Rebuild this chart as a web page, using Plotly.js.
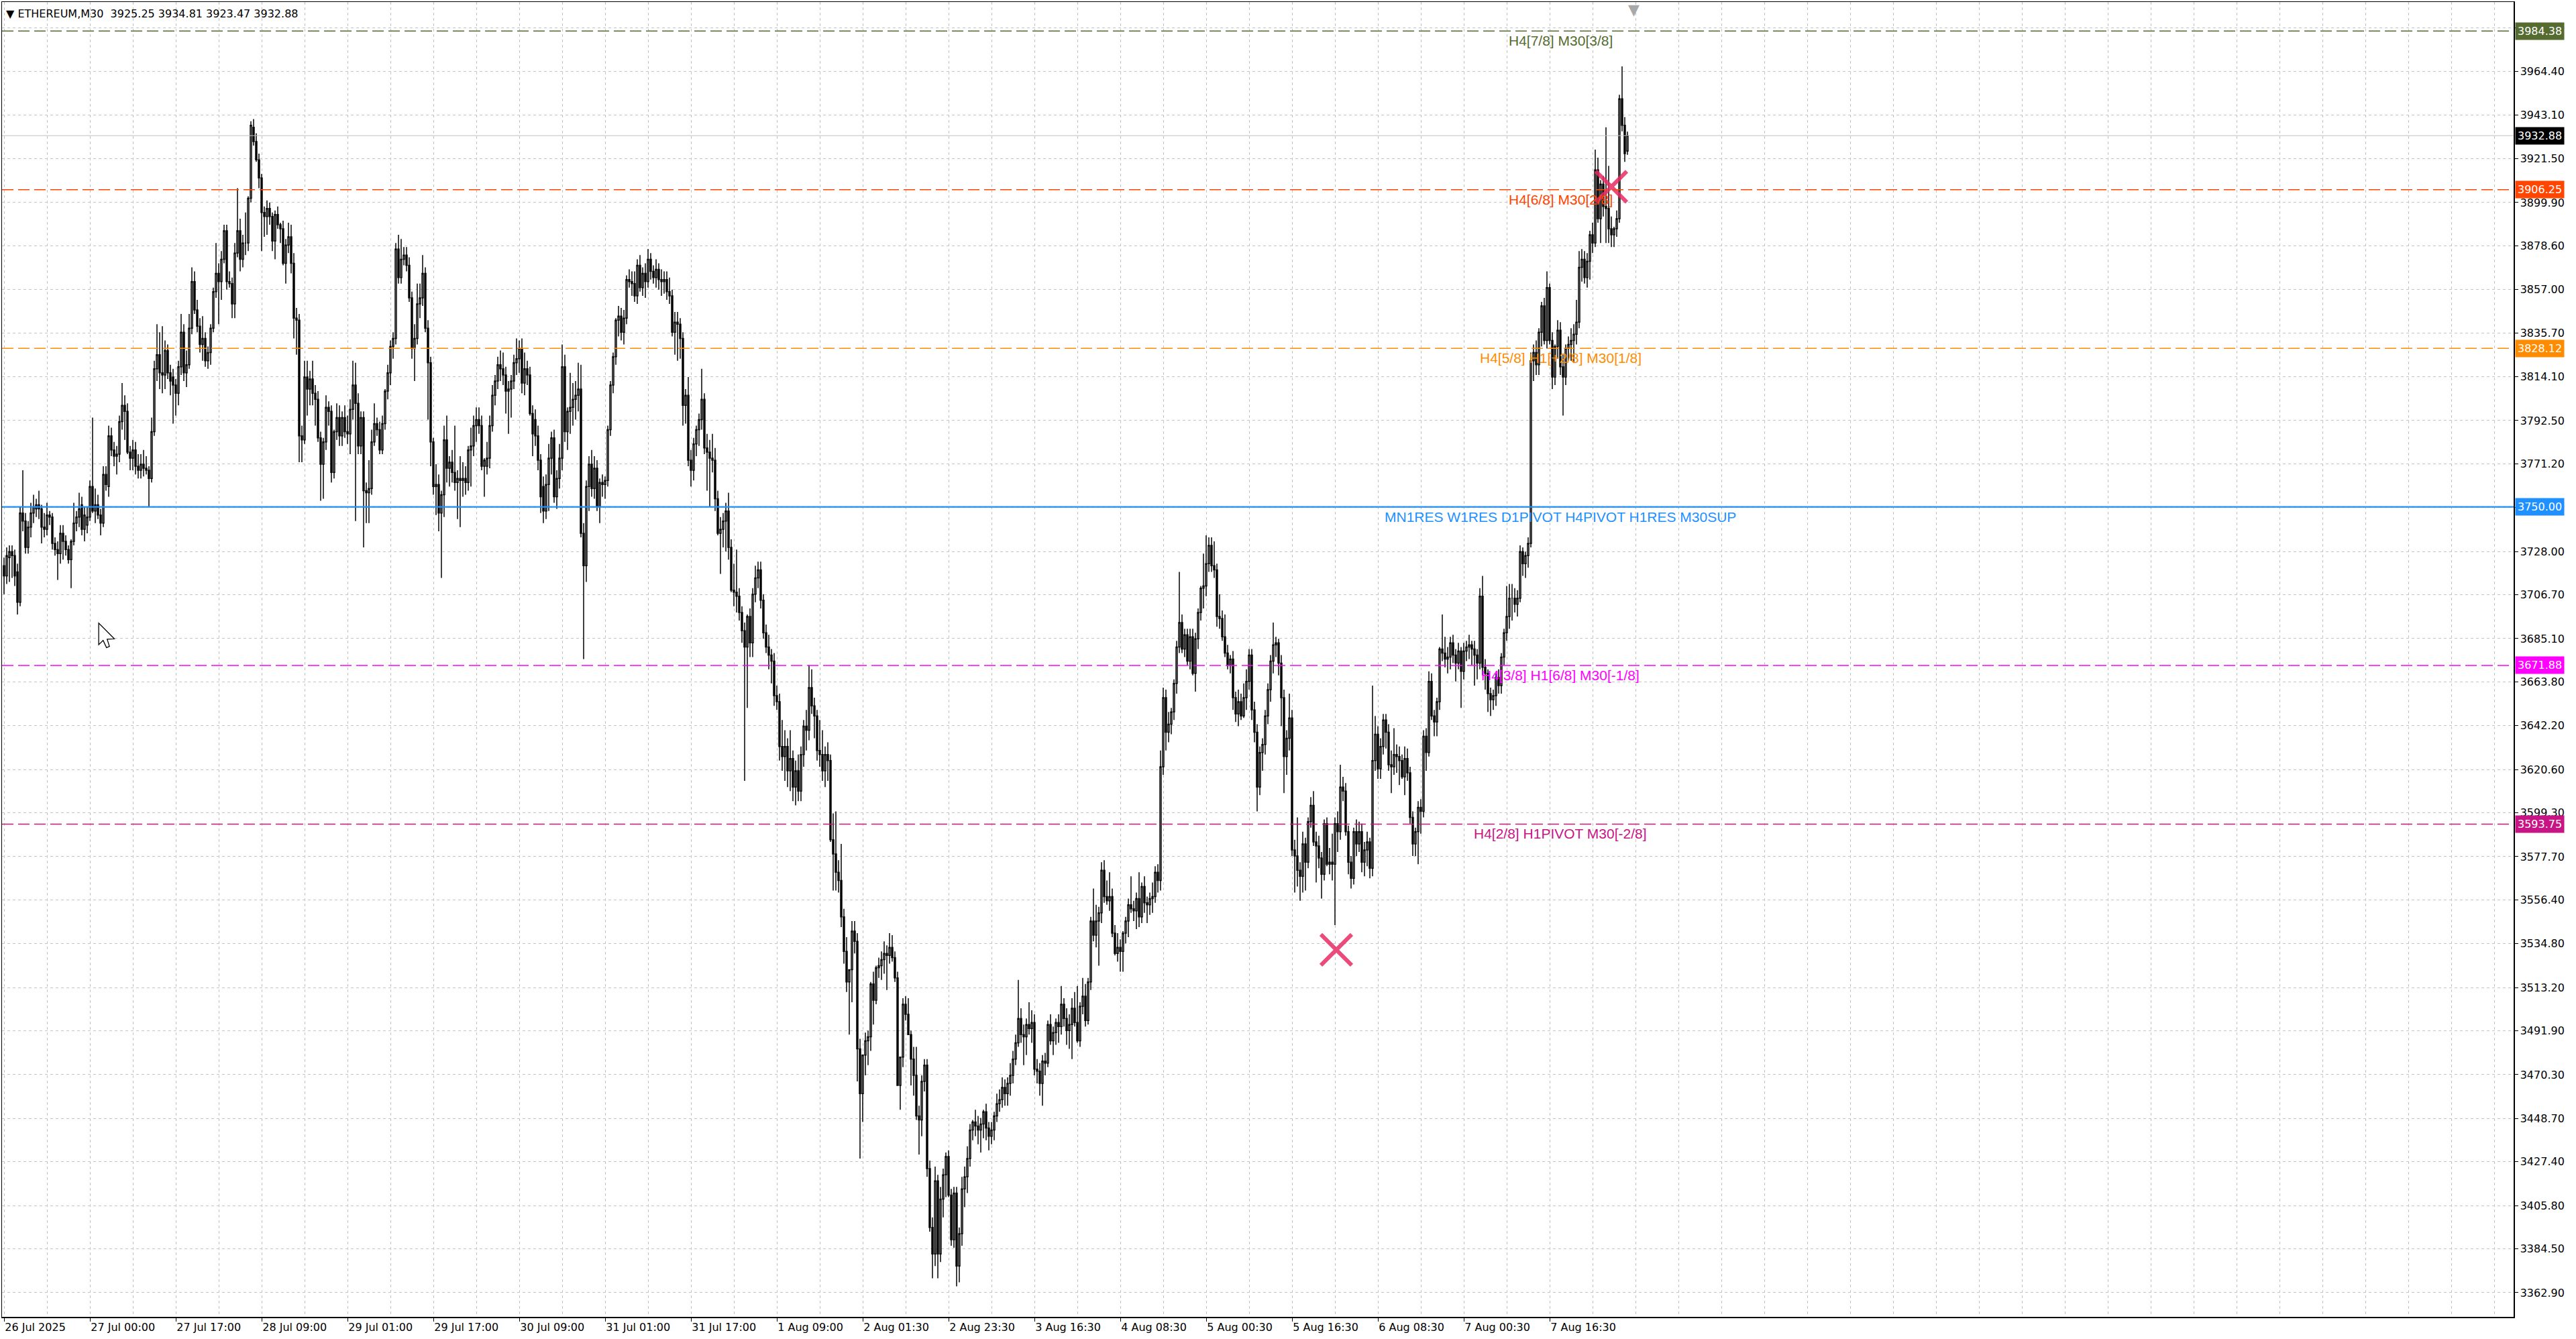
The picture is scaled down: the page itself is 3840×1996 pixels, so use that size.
<!DOCTYPE html>
<html>
<head>
<meta charset="utf-8">
<script src="https://cdn.plot.ly/plotly-3.0.1.min.js"></script>
<style>
html,body{margin:0;padding:0;background:#fff;}
#chart{width:3840px;height:1996px;}
</style>
</head>
<body>
<div id="chart"></div>
<script>
// ETHEREUM M30 candles, rows are [open, high, low, close]
let ohlcPart1 = [
[3721,3725,3707,3716],[3716,3730,3712,3726],[3725,3731,3713,3728],[3728,3731,3715,3726],[3726,3729,3711,3716],
[3718,3722,3697,3703],[3703,3750,3701,3747],[3747,3768,3738,3743],[3743,3747,3727,3730],[3730,3743,3727,3740],
[3740,3752,3735,3747],[3747,3756,3742,3750],[3749,3754,3745,3751],[3751,3758,3744,3749],[3749,3751,3732,3740],
[3740,3747,3735,3739],[3739,3752,3736,3746],[3746,3748,3741,3745],[3745,3747,3729,3732],[3732,3735,3726,3729],
[3729,3733,3714,3727],[3727,3741,3722,3737],[3737,3741,3724,3733],[3733,3736,3726,3729],[3729,3731,3722,3724],
[3724,3734,3710,3733],[3733,3752,3731,3742],[3742,3748,3738,3745],[3745,3757,3740,3749],[3751,3755,3736,3739],
[3739,3750,3733,3746],[3741,3750,3737,3745],[3745,3763,3743,3760],[3760,3794,3747,3748],[3748,3759,3742,3751],
[3751,3756,3744,3746],[3746,3749,3736,3742],[3742,3770,3740,3766],[3766,3770,3758,3761],[3760,3790,3755,3785],
[3785,3789,3775,3778],[3778,3782,3770,3775],[3775,3780,3766,3776],[3776,3795,3772,3792],[3792,3811,3788,3800],
[3800,3805,3783,3797],[3797,3801,3776,3777],[3777,3780,3768,3774],[3774,3783,3768,3778],[3778,3782,3766,3770],
[3770,3776,3764,3768],[3768,3776,3764,3771],[3771,3778,3765,3769],[3769,3775,3766,3768],[3768,3770,3750,3764],
[3764,3794,3762,3787],[3787,3822,3785,3818],[3818,3840,3812,3825],[3825,3836,3808,3816],[3816,3839,3806,3815],
[3815,3832,3808,3827],[3827,3830,3813,3816],[3816,3820,3805,3812],[3814,3818,3791,3810],[3810,3813,3795,3806],
[3806,3822,3800,3819],[3819,3845,3815,3836],[3836,3840,3812,3816],[3816,3827,3809,3820],[3820,3845,3818,3838],
[3838,3868,3835,3861],[3861,3866,3845,3847],[3847,3852,3836,3839],[3839,3843,3826,3830],[3830,3844,3822,3833],
[3833,3836,3819,3822],[3822,3829,3818,3826],[3826,3840,3820,3838],[3838,3858,3836,3856],[3856,3880,3853,3865],
[3865,3870,3840,3861],[3861,3876,3852,3872],[3872,3889,3870,3886],[3886,3889,3857,3861],[3861,3866,3858,3860],
[3860,3863,3843,3850],[3850,3880,3843,3875],[3875,3907,3873,3886],[3886,3892,3866,3872],[3872,3884,3868,3880],
[3880,3895,3874,3880],[3880,3903,3876,3902],[3902,3940,3900,3938],[3937,3941,3928,3930],[3930,3934,3920,3921],
[3921,3924,3907,3912],[3912,3914,3876,3895],[3895,3898,3883,3893],[3893,3901,3884,3897],[3897,3900,3889,3893],
[3893,3895,3876,3881],[3881,3896,3872,3894],[3894,3898,3887,3889],[3889,3890,3880,3887],[3887,3891,3869,3870],
[3870,3882,3860,3879],[3879,3890,3875,3883],[3883,3889,3865,3870],[3870,3875,3833,3843],[3843,3848,3825,3842],
[3842,3845,3772,3785],[3785,3790,3772,3783],[3783,3822,3781,3814],[3814,3822,3795,3808],[3808,3817,3800,3813],
[3813,3822,3800,3806],[3806,3810,3790,3803],[3803,3807,3782,3784],[3784,3787,3753,3771],[3771,3784,3754,3782],
[3782,3805,3778,3799],[3799,3802,3790,3797],[3797,3800,3762,3767],[3767,3788,3764,3787],[3787,3801,3783,3794],
[3794,3800,3780,3785],[3785,3797,3780,3794],[3794,3800,3784,3787],[3787,3795,3781,3786],[3786,3803,3776,3798],
[3798,3822,3793,3810],[3810,3821,3743,3801],[3801,3806,3776,3780],[3780,3797,3776,3794],[3794,3797,3730,3758],
[3758,3762,3742,3757],[3757,3773,3742,3759],[3759,3788,3756,3782],[3782,3801,3780,3791],[3791,3794,3785,3788],
[3788,3792,3776,3778],[3778,3795,3776,3791],[3791,3808,3788,3807],[3807,3820,3803,3816],[3816,3832,3810,3829],
[3829,3836,3823,3833],[3833,3880,3830,3877],[3877,3884,3860,3863],[3863,3882,3860,3872],[3872,3878,3869,3874],
[3874,3878,3866,3869],[3869,3873,3851,3853],[3853,3856,3823,3828]
];
let ohlcPart2 = [
[3828,3840,3812,3833],[3833,3860,3830,3850],[3850,3860,3843,3853],[3853,3874,3849,3865],[3865,3868,3836,3838],
[3838,3842,3793,3821],[3821,3824,3770,3782],[3782,3784,3756,3760],[3760,3771,3746,3761],[3761,3766,3738,3747],
[3747,3758,3715,3756],[3756,3790,3745,3783],[3783,3795,3762,3769],[3769,3775,3760,3772],[3772,3778,3762,3767],
[3767,3790,3758,3762],[3762,3768,3744,3764],[3764,3775,3740,3763],[3763,3772,3755,3764],[3764,3770,3756,3762],
[3762,3780,3758,3778],[3778,3789,3760,3780],[3780,3795,3775,3790],[3790,3799,3782,3793],[3793,3799,3786,3790],
[3790,3795,3768,3770],[3770,3774,3755,3773],[3770,3782,3766,3774],[3774,3795,3769,3790],[3790,3810,3787,3805],
[3805,3815,3800,3812],[3812,3824,3808,3820],[3820,3827,3812,3818],[3818,3826,3810,3815],[3815,3819,3796,3807],
[3807,3812,3786,3808],[3808,3815,3794,3812],[3812,3825,3808,3821],[3821,3833,3815,3823],[3823,3832,3816,3828],
[3828,3833,3806,3811],[3811,3826,3805,3818],[3818,3822,3810,3815],[3815,3819,3795,3796],[3796,3800,3775,3786],
[3793,3798,3780,3785],[3785,3790,3768,3773],[3773,3776,3747,3755],[3760,3765,3742,3748],[3748,3766,3744,3761],
[3761,3781,3748,3774],[3774,3787,3766,3784],[3784,3788,3752,3755],[3755,3768,3749,3764],[3764,3781,3759,3774],
[3774,3830,3768,3819],[3819,3825,3782,3787],[3787,3799,3778,3797],[3797,3816,3786,3799],[3799,3811,3790,3803],
[3803,3812,3793,3805],[3805,3821,3797,3808],[3808,3820,3735,3737],[3737,3742,3675,3721],[3721,3763,3713,3760],
[3760,3775,3748,3771],[3771,3778,3755,3759],[3759,3775,3754,3769],[3769,3773,3748,3750],[3750,3764,3742,3762],
[3762,3766,3755,3761],[3761,3765,3754,3763],[3763,3790,3760,3788],[3788,3812,3785,3810],[3810,3826,3806,3824],
[3824,3843,3820,3842],[3842,3849,3834,3844],[3844,3848,3832,3836],[3836,3847,3830,3843],[3843,3864,3840,3862],
[3862,3867,3858,3861],[3861,3866,3854,3860],[3860,3866,3851,3854],[3854,3872,3850,3869],[3869,3874,3856,3858],
[3858,3868,3854,3865],[3865,3870,3853,3861],[3861,3877,3858,3872],[3872,3875,3862,3866],[3866,3869,3860,3863],
[3863,3872,3858,3867],[3867,3870,3857,3862],[3862,3867,3854,3861],[3861,3866,3855,3862],[3862,3866,3852,3856],
[3856,3863,3850,3854],[3854,3857,3834,3836],[3836,3846,3825,3841],[3841,3846,3822,3840],[3840,3843,3823,3833],
[3833,3836,3790,3800],[3800,3808,3791,3805],[3805,3814,3770,3773],[3773,3778,3760,3768],[3768,3784,3763,3781],
[3781,3790,3775,3788],[3788,3796,3780,3793],[3793,3818,3788,3803],[3803,3806,3776,3779],[3779,3786,3758,3777],
[3777,3783,3750,3774],[3774,3786,3767,3773],[3773,3779,3748,3754],[3754,3758,3736,3737],[3737,3745,3717,3739],
[3739,3747,3730,3743],[3743,3752,3728,3748],[3748,3757,3724,3730],[3730,3734,3708,3709],[3709,3722,3701,3708],
[3708,3729,3698,3706],[3706,3710,3694,3698],[3698,3701,3683,3689],[3689,3693,3615,3681],[3681,3697,3651,3696],
[3696,3700,3676,3683],[3683,3710,3676,3707],[3707,3721,3703,3715],[3715,3723,3710,3719],[3719,3723,3700,3704],
[3704,3707,3685,3688],[3688,3692,3678,3681],[3681,3687,3670,3677],[3677,3680,3663,3674],[3674,3678,3652,3657],
[3657,3662,3650,3654],[3654,3658,3625,3632],[3632,3645,3620,3627],[3627,3640,3615,3632],[3632,3636,3612,3620],
[3620,3640,3610,3626],[3626,3630,3605,3612],[3612,3625,3603,3620],[3620,3628,3605,3610],[3610,3632,3605,3628],
[3628,3645,3622,3642],[3642,3650,3630,3640],[3640,3672,3635,3661],[3661,3670,3648,3652],[3652,3656,3636,3647],
[3647,3650,3625,3630],[3630,3645,3622,3628],[3628,3640,3615,3620],[3620,3632,3612,3628],[3628,3634,3615,3625]
];
let ohlcPart3 = [
[3625,3628,3585,3586],[3586,3599,3561,3579],[3579,3600,3561,3570],[3570,3576,3560,3566],[3566,3584,3543,3548],
[3548,3552,3525,3531],[3531,3538,3511,3516],[3516,3522,3490,3522],[3522,3546,3506,3541],[3541,3546,3530,3536],
[3536,3540,3467,3483],[3483,3488,3429,3461],[3461,3480,3447,3480],[3480,3491,3470,3487],[3487,3492,3475,3489],
[3489,3516,3482,3515],[3515,3521,3495,3507],[3507,3524,3505,3523],[3523,3528,3518,3524],[3524,3531,3517,3527],
[3527,3536,3520,3530],[3530,3534,3512,3529],[3529,3540,3525,3533],[3533,3539,3526,3528],[3528,3531,3516,3518],
[3518,3521,3465,3465],[3465,3479,3453,3479],[3479,3508,3474,3505],[3505,3509,3497,3500],[3500,3508,3490,3490],
[3490,3492,3465,3478],[3478,3484,3460,3470],[3470,3484,3448,3450],[3450,3455,3431,3448],[3448,3470,3440,3467],
[3467,3478,3462,3475],[3475,3478,3420,3424],[3424,3428,3393,3395],[3395,3400,3370,3382],[3382,3425,3376,3418],
[3418,3421,3370,3382],[3382,3415,3378,3409],[3409,3424,3400,3421],[3421,3432,3410,3430],[3430,3433,3410,3411],
[3411,3414,3386,3389],[3389,3415,3385,3412],[3412,3415,3366,3376],[3376,3395,3368,3392],[3392,3420,3386,3414],
[3414,3425,3405,3420],[3420,3435,3412,3429],[3429,3446,3425,3443],[3443,3448,3438,3447],[3447,3453,3440,3445],
[3445,3450,3436,3443],[3443,3449,3432,3446],[3446,3453,3439,3452],[3452,3456,3438,3444],[3444,3447,3433,3440],
[3440,3447,3436,3443],[3443,3452,3438,3450],[3450,3461,3447,3456],[3456,3463,3452,3458],[3458,3469,3454,3464],
[3464,3468,3455,3461],[3461,3469,3455,3466],[3466,3476,3460,3470],[3470,3482,3466,3478],[3478,3490,3475,3486],
[3486,3517,3484,3498],[3498,3503,3486,3490],[3490,3495,3475,3489],[3489,3498,3480,3495],[3495,3506,3490,3493],
[3493,3502,3486,3496],[3496,3500,3470,3473],[3473,3478,3466,3472],[3472,3476,3460,3466],[3466,3480,3455,3477],
[3477,3481,3470,3476],[3476,3497,3474,3495],[3495,3500,3485,3487],[3487,3494,3480,3491],[3491,3498,3485,3496],
[3496,3500,3486,3494],[3494,3514,3490,3505],[3505,3508,3494,3498],[3498,3503,3485,3492],[3492,3500,3483,3495],
[3495,3508,3478,3503],[3503,3511,3494,3496],[3496,3514,3486,3487],[3487,3506,3484,3504],[3504,3518,3500,3509],
[3509,3515,3494,3497],[3497,3518,3495,3516],[3516,3548,3512,3546],[3546,3562,3536,3539],[3539,3554,3533,3546],
[3546,3553,3524,3550],[3550,3575,3545,3571],[3571,3576,3555,3558],[3558,3566,3554,3556],[3556,3570,3551,3558],
[3558,3562,3538,3540],[3540,3544,3529,3530],[3530,3540,3526,3533],[3533,3537,3521,3531],[3531,3541,3521,3540],
[3540,3548,3535,3546],[3546,3557,3538,3554],[3554,3568,3550,3552],[3552,3556,3546,3551],[3551,3560,3542,3557],
[3557,3570,3543,3548],[3548,3565,3545,3563],[3563,3568,3550,3555],[3555,3558,3545,3554],[3554,3560,3549,3557],
[3557,3565,3550,3558],[3558,3573,3555,3570],[3570,3574,3560,3566],[3566,3630,3561,3622],[3622,3661,3618,3656],
[3656,3660,3630,3639],[3639,3649,3634,3643],[3643,3651,3638,3649],[3649,3665,3645,3663],[3663,3684,3658,3681],
[3681,3718,3678,3693],[3693,3697,3678,3680],[3680,3690,3676,3687],[3687,3690,3672,3674],[3674,3690,3670,3686],
[3686,3690,3667,3668],[3668,3688,3659,3685],[3685,3700,3680,3698],[3698,3711,3694,3710],[3710,3727,3700,3711],
[3711,3736,3706,3722],[3722,3735,3718,3731],[3731,3735,3718,3721],[3721,3733,3715,3719],[3719,3722,3691,3696],
[3696,3707,3690,3695],[3695,3699,3684,3686],[3686,3697,3676,3678],[3678,3682,3670,3672],[3672,3677,3668,3675],
[3675,3679,3650,3656],[3656,3659,3644,3648],[3648,3660,3642,3654],[3654,3658,3645,3647],[3647,3663,3646,3656]
];
let ohlcPart4 = [
[3656,3670,3650,3664],[3664,3680,3660,3677],[3677,3680,3645,3650],[3650,3654,3634,3639],[3639,3643,3600,3612],
[3612,3632,3608,3629],[3629,3636,3620,3633],[3633,3650,3628,3647],[3647,3663,3643,3660],[3660,3677,3654,3674],
[3674,3693,3668,3682],[3682,3686,3676,3683],[3683,3685,3667,3673],[3673,3677,3642,3656],[3656,3660,3609,3627],
[3627,3640,3618,3636],[3636,3658,3630,3646],[3646,3650,3578,3581],[3581,3586,3560,3578],[3578,3597,3563,3571],
[3571,3575,3556,3568],[3568,3590,3560,3584],[3584,3587,3561,3575],[3575,3597,3572,3595],[3595,3607,3592,3603],
[3603,3610,3583,3585],[3585,3590,3565,3583],[3583,3588,3572,3577],[3577,3580,3557,3569],[3569,3596,3566,3594],
[3594,3597,3573,3574],[3574,3582,3569,3575],[3575,3589,3566,3574],[3574,3597,3544,3594],[3594,3600,3580,3590],
[3590,3623,3586,3612],[3612,3617,3605,3610],[3610,3614,3588,3590],[3590,3593,3569,3575],[3575,3578,3562,3567],
[3567,3592,3564,3590],[3590,3596,3578,3584],[3584,3595,3580,3590],[3590,3594,3570,3575],[3575,3585,3568,3581],
[3581,3590,3573,3585],[3585,3587,3567,3572],[3572,3662,3568,3625],[3625,3647,3620,3638],[3638,3642,3616,3621],
[3621,3636,3616,3632],[3632,3648,3628,3645],[3645,3648,3631,3639],[3639,3643,3620,3623],[3623,3630,3609,3622],
[3622,3641,3618,3628],[3628,3633,3619,3627],[3627,3632,3613,3625],[3625,3628,3616,3617],[3617,3632,3608,3626],
[3626,3631,3615,3619],[3619,3622,3594,3597],[3597,3600,3578,3584],[3584,3592,3578,3590],[3590,3605,3574,3602],
[3602,3606,3589,3600],[3600,3640,3597,3637],[3637,3641,3620,3629],[3629,3669,3627,3664],[3664,3668,3645,3647],
[3647,3650,3637,3644],[3644,3656,3637,3654],[3654,3681,3650,3680],[3680,3697,3674,3678],[3678,3686,3671,3675],
[3675,3681,3668,3676],[3676,3686,3670,3683],[3683,3687,3673,3677],[3677,3680,3664,3673],[3673,3683,3670,3679],
[3679,3681,3651,3669],[3669,3683,3665,3679],[3679,3684,3674,3681],[3681,3687,3675,3682],[3682,3684,3672,3680],
[3680,3684,3662,3677],[3677,3680,3665,3673],[3673,3710,3670,3706],[3706,3716,3667,3671],[3671,3675,3660,3668],
[3668,3670,3649,3658],[3658,3661,3647,3655],[3655,3660,3650,3657],[3657,3668,3652,3666],[3666,3670,3658,3662],
[3662,3678,3658,3676],[3676,3690,3672,3688],[3688,3711,3684,3696],[3696,3712,3690,3705],[3705,3712,3694,3705],
[3705,3710,3698,3702],[3702,3709,3696,3705]
];
let ohlcPart5 = [
[3705,3731,3703,3728],[3728,3730,3716,3722],[3722,3728,3715,3726],[3726,3735,3720,3732],[3732,3826,3730,3822],
[3822,3830,3812,3826],[3826,3832,3815,3820],[3820,3838,3815,3836],[3836,3851,3829,3849],[3849,3853,3830,3832],
[3832,3866,3828,3858],[3858,3860,3830,3832],[3832,3836,3808,3814],[3814,3830,3810,3829],[3829,3842,3823,3837],
[3837,3841,3815,3819],[3819,3825,3795,3814],[3814,3830,3810,3828],[3828,3834,3822,3830],[3830,3838,3822,3832],
[3832,3840,3821,3835],[3835,3852,3830,3841],[3841,3876,3838,3868],[3868,3877,3861,3872],[3872,3876,3860,3863],
[3863,3875,3858,3871],[3871,3886,3862,3884],[3884,3890,3875,3880],[3880,3926,3878,3916],[3916,3922,3890,3892],
[3892,3911,3880,3909],[3909,3913,3893,3898],[3898,3937,3880,3897],[3897,3918,3880,3887],[3887,3893,3878,3884],
[3884,3888,3878,3887],[3887,3896,3883,3892],[3892,3953,3890,3951],[3951,3967,3935,3938],[3938,3942,3920,3924],
[3925.25,3934.81,3923.47,3932.88]
];

let symbolName = 'ETHEREUM,M30';
let timeLabels = ['26 Jul 2025','27 Jul 00:00','27 Jul 17:00','28 Jul 09:00','29 Jul 01:00','29 Jul 17:00',
  '30 Jul 09:00','31 Jul 01:00','31 Jul 17:00','1 Aug 09:00','2 Aug 01:30','2 Aug 23:30','3 Aug 16:30',
  '4 Aug 08:30','5 Aug 00:30','5 Aug 16:30','6 Aug 08:30','7 Aug 00:30','7 Aug 16:30'];
let priceTicks = [3986.00,3964.40,3943.10,3921.50,3899.90,3878.60,3857.00,3835.70,3814.10,3792.50,3771.20,
  3749.60,3728.00,3706.70,3685.10,3663.80,3642.20,3620.60,3599.30,3577.70,3556.40,3534.80,3513.20,3491.90,
  3470.30,3448.70,3427.40,3405.80,3384.50,3362.90];
// murrey / pivot levels drawn on the chart
let levelPrices = [3984.38, 3906.25, 3828.12, 3750.00, 3671.88, 3593.75];
let levelNames = ['H4[7/8] M30[3/8]', 'H4[6/8] M30[2/8]', 'H4[5/8] H1[+2/8] M30[1/8]',
  'MN1RES W1RES D1PIVOT H4PIVOT H1RES M30SUP', 'H4[3/8] H1[6/8] M30[-1/8]', 'H4[2/8] H1PIVOT M30[-2/8]'];
// the two pink crosses (bar index, price)
let crossBars = [496.5, 599];
let crossPrices = [3531.8, 3907.7];

// styles
let levelColors = ['#556B2F', '#FF4500', '#FF8C00', '#1E90FF', '#FF00FF', '#C71585'];
let barsPerLabel = 32;
let labelBar = 580;
let gridCol = '#c4c4c4';
let tagFont = {family: 'DejaVu Sans, sans-serif', size: 16, color: '#ffffff'};

let bars = [].concat(ohlcPart1, ohlcPart2, ohlcPart3, ohlcPart4, ohlcPart5);
let xs = bars.map((b, i) => i);
let last = bars[bars.length - 1];
let lastClose = last[3];

let candles = {
    type: 'candlestick',
    x: xs,
    open: bars.map(b => b[0]),
    high: bars.map(b => b[1]),
    low: bars.map(b => b[2]),
    close: bars.map(b => b[3]),
    increasing: {line: {color: '#000000', width: 1.5}, fillcolor: '#ffffff'},
    decreasing: {line: {color: '#000000', width: 1.5}, fillcolor: '#000000'},
    whiskerwidth: 0,
    hoverinfo: 'skip'
};

let crosses = {
    type: 'scatter',
    mode: 'markers',
    x: crossBars,
    y: crossPrices,
    marker: {symbol: 'x-thin-open', size: 46, color: 'rgba(232,44,100,0.85)',
             line: {width: 6, color: 'rgba(232,44,100,0.85)'}},
    hoverinfo: 'skip'
};

let shapes = [];
let annotations = [];

// grey bid line
shapes.push({type: 'line', xref: 'paper', x0: 0, x1: 1, yref: 'y', y0: lastClose, y1: lastClose,
    line: {color: '#c0c0c0', width: 1}});

levelPrices.forEach((p, i) => {
    let solid = levelNames[i].indexOf('PIVOT H4PIVOT') != -1;
    shapes.push({type: 'line', xref: 'paper', x0: 0, x1: 1, yref: 'y', y0: p, y1: p,
        line: {color: levelColors[i], width: solid ? 2.2 : 1.5, dash: solid ? 'solid' : '17px,7px'}});
    annotations.push({x: labelBar, y: p, xref: 'x', yref: 'y', text: levelNames[i], showarrow: false,
        xanchor: 'center', yanchor: 'top', yshift: -1,
        font: {family: 'Liberation Sans, Arial, sans-serif', size: 21, color: levelColors[i]}});
    annotations.push({x: 1, y: p, xref: 'paper', yref: 'y', text: p.toFixed(2), showarrow: false,
        xanchor: 'left', yanchor: 'middle', xshift: 2, bgcolor: levelColors[i], borderpad: 3,
        font: tagFont});
});

// last price tag
annotations.push({x: 1, y: lastClose, xref: 'paper', yref: 'y', text: lastClose.toFixed(2), showarrow: false,
    xanchor: 'left', yanchor: 'middle', xshift: 2, bgcolor: '#000000', borderpad: 3, font: tagFont});

// symbol line in the corner
annotations.push({x: 0, y: 1, xref: 'paper', yref: 'paper', xanchor: 'left', yanchor: 'top',
    xshift: 4, yshift: -6, showarrow: false,
    text: '▼ ' + symbolName + '  ' + last.map(v => v.toFixed(2)).join(' '),
    font: {family: 'DejaVu Sans, sans-serif', size: 16, color: '#000000'}});

// chart shift marker
annotations.push({x: bars.length + 1.25, y: 1, xref: 'x', yref: 'paper', yanchor: 'top', yshift: 3,
    showarrow: false, text: '▼', font: {family: 'DejaVu Sans, sans-serif', size: 22, color: '#a8a8a8'}});

// mouse pointer left in the screenshot
shapes.push({type: 'path', xref: 'paper', yref: 'paper', xsizemode: 'pixel', ysizemode: 'pixel',
    xanchor: 0.0385, yanchor: 0.5276,
    path: 'M0,0 L0,-32 L6.6,-25.7 L11.6,-36.4 L16,-34.7 L12.6,-24 L23.3,-23.4 Z',
    fillcolor: '#ffffff', line: {color: '#000000', width: 1.3}});

let gridBars = [];
for (let g = 16; g < 936; g += 16) gridBars.push(g);

let layout = {
    width: 3840,
    height: 1996,
    margin: {l: 3, r: 93, t: 3, b: 33, pad: 0},
    paper_bgcolor: '#ffffff',
    plot_bgcolor: '#ffffff',
    showlegend: false,
    hovermode: false,
    dragmode: false,
    xaxis: {
        type: 'linear',
        range: [-0.75, 935.25],
        rangeslider: {visible: false},
        tickmode: 'array',
        tickvals: timeLabels.map((t, i) => i * barsPerLabel),
        ticktext: timeLabels,
        ticklabelposition: 'outside right',
        ticks: 'outside', ticklen: 5, tickcolor: '#000000',
        tickfont: {family: 'DejaVu Sans, sans-serif', size: 16, color: '#000000'},
        showgrid: true, gridcolor: gridCol, griddash: '4px,4px', gridwidth: 1,
        minor: {tickmode: 'array', tickvals: gridBars, showgrid: true, gridcolor: gridCol,
                griddash: '4px,4px', gridwidth: 1, ticks: ''},
        showline: true, linecolor: '#000000', linewidth: 1.5, mirror: true,
        zeroline: false, fixedrange: true
    },
    yaxis: {
        side: 'right',
        range: [3351.0, 3998.7],
        tickmode: 'array',
        tickvals: priceTicks,
        ticktext: priceTicks.map(v => v.toFixed(2)),
        ticks: 'outside', ticklen: 5, tickcolor: '#000000',
        tickfont: {family: 'DejaVu Sans, sans-serif', size: 16, color: '#000000'},
        showgrid: true, gridcolor: gridCol, griddash: '4px,4px', gridwidth: 1,
        showline: true, linecolor: '#000000', linewidth: 1.5, mirror: true,
        zeroline: false, fixedrange: true
    },
    shapes: shapes,
    annotations: annotations
};

Plotly.newPlot('chart', [candles, crosses], layout, {staticPlot: true, displayModeBar: false});
</script>
</body>
</html>
